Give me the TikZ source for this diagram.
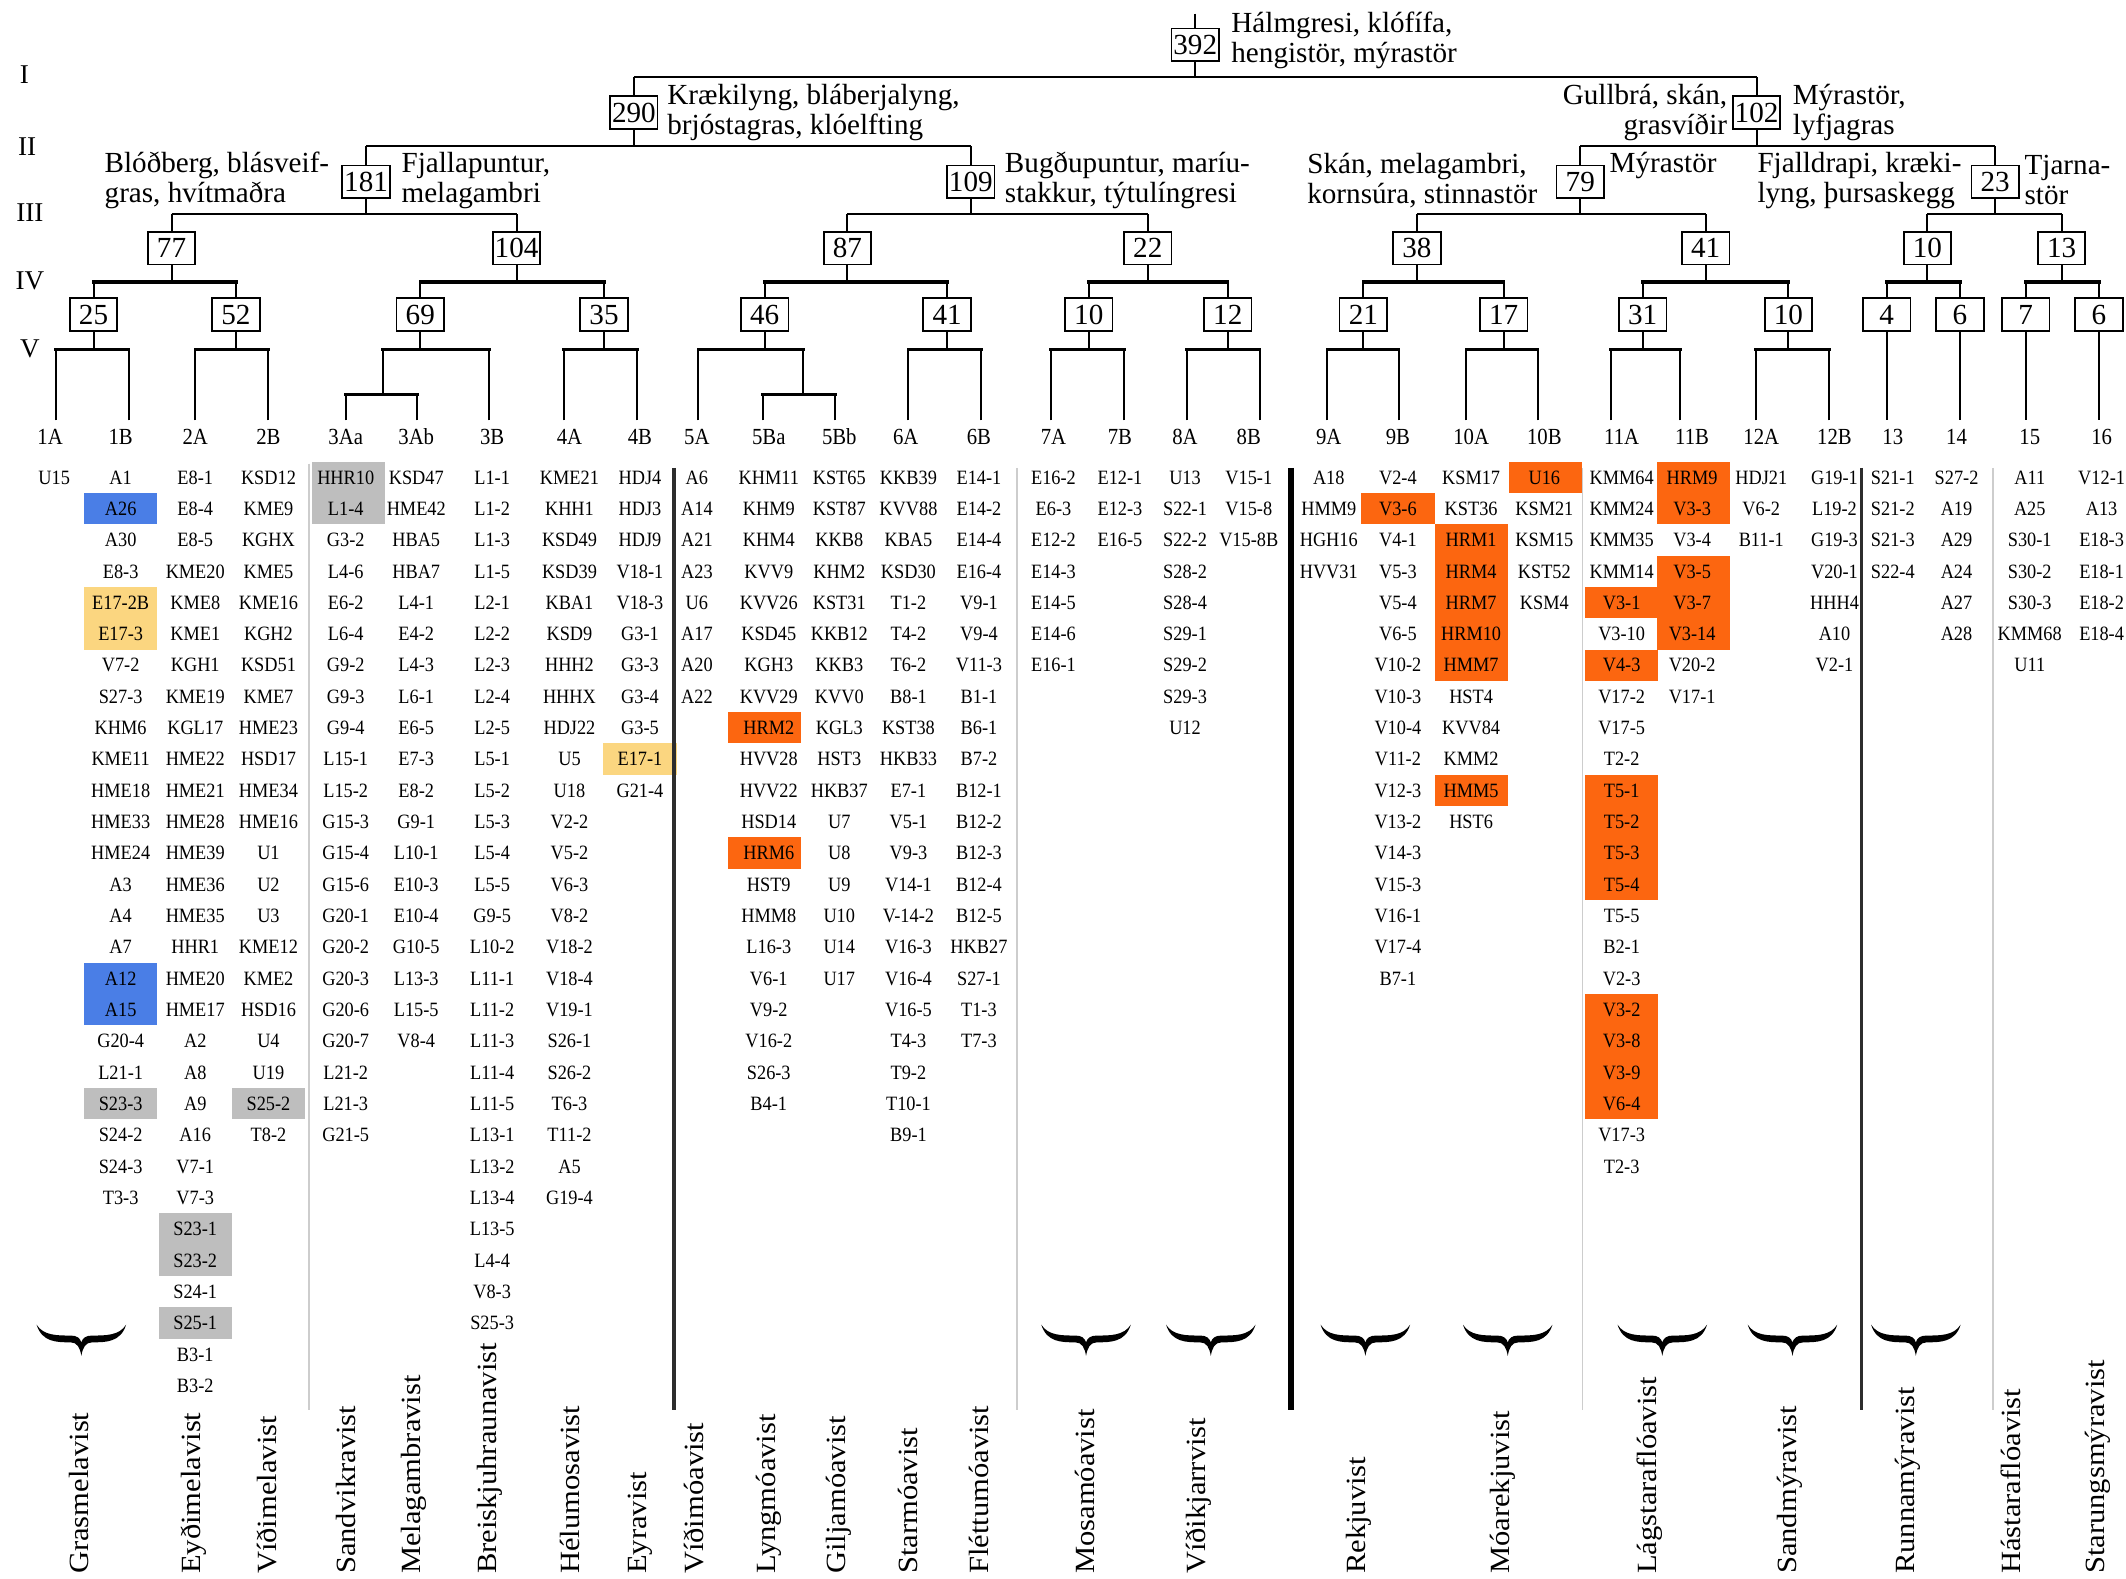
\documentclass[tikz,border=0pt]{standalone}
\usepackage{fontspec}
\setmainfont{Liberation Serif}
\newfontfamily\condfont{Liberation Serif}[FakeStretch=0.9]
\newfontfamily\widefont{Liberation Serif}[FakeStretch=1.1]
\definecolor{hlblue}{RGB}{74,126,230}
\definecolor{hlyellow}{RGB}{251,214,128}
\definecolor{hlgrey}{RGB}{190,190,190}
\definecolor{hlorange}{RGB}{252,102,16}
\definecolor{sepgrey}{RGB}{205,205,205}
\definecolor{sepdark}{RGB}{45,45,45}
\tikzset{
  conn/.style={line width=1.5pt, black},
  connv/.style={line width=2.4pt, black, line cap=rect},
  numbox/.style={draw, line width=1.3pt, fill=white, minimum width=35pt, minimum height=24pt, inner sep=0pt, font=\fontsize{21.5}{22}\selectfont},
  head/.style={inner sep=0pt, font=\fontsize{21.5}{22}\selectfont},
  lvl/.style={inner sep=0pt, font=\fontsize{20}{20}\selectfont},
  leaflab/.style={inner sep=0pt, font=\condfont\fontsize{17}{17}\selectfont},
  lstitem/.style={inner sep=0pt, text height=10pt, text depth=0pt, font=\condfont\fontsize{15}{15}\selectfont},
  botlab/.style={inner sep=0pt, rotate=90, anchor=west, font=\widefont\fontsize{20.5}{20.5}\selectfont},
  sepg/.style={line width=1pt, sepgrey},
  sepd/.style={line width=2.5pt, sepdark},
  sepk/.style={line width=4pt, black},
  brc/.pic={\fill[black] (-33,-13) .. controls (-29,0) and (-18,0) .. (-8,0) .. controls (-3,0) and (-1,4) .. (0,10) .. controls (1,4) and (3,0) .. (8,0) .. controls (18,0) and (29,0) .. (33,-13) .. controls (28,-5) and (18,-5) .. (8,-5) .. controls (3,-5) and (1,-3) .. (0,0) .. controls (-1,-3) and (-3,-5) .. (-8,-5) .. controls (-18,-5) and (-28,-5) .. (-33,-13) -- cycle;}
}
\newcommand\mklist[3]{\foreach \itm [count=\i from 0] in {#3}{\node[lstitem] (t#1-\i) at (#2,{352+23.1*\i}) {\itm};}}
\newcommand\mkhl[4]{\fill[#1] ({#2-27},{352+23.1*#3-11.55}) rectangle ({#2+27},{352+23.1*#4+11.55});}
\newcommand\mksplit[5]{%
  \draw[conn] (#1.south) -- (#1.south |- 0,#2);
  \draw[conn] (#3) -- (#3 |- 0,#2);
  \draw[conn] (#4) -- (#4 |- 0,#2);
  \draw[#5] (#3 |- 0,#2) -- (#4 |- 0,#2);}
\begin{document}
\begin{tikzpicture}[x=1pt,y=-1pt]
\fill[white] (0,0) rectangle (1568,1164);
\path[use as bounding box] (0,0) rectangle (1568,1164);

% ---------- highlights ----------
\mkhl{hlblue}{89}{1}{1}
\mkhl{hlyellow}{89}{4}{5}
\mkhl{hlblue}{89}{16}{17}
\mkhl{hlgrey}{89}{20}{20}
\mkhl{hlgrey}{144}{24}{25}
\mkhl{hlgrey}{144}{27}{27}
\mkhl{hlgrey}{198}{20}{20}
\mkhl{hlgrey}{257}{0}{1}
\mkhl{hlyellow}{472}{9}{9}
\mkhl{hlorange}{564}{8}{8}
\mkhl{hlorange}{564}{12}{12}
\mkhl{hlorange}{1031}{1}{1}
\mkhl{hlorange}{1085}{2}{6}
\mkhl{hlorange}{1085}{10}{10}
\mkhl{hlorange}{1140}{0}{0}
\mkhl{hlorange}{1196}{4}{4}
\mkhl{hlorange}{1196}{6}{6}
\mkhl{hlorange}{1196}{10}{13}
\mkhl{hlorange}{1196}{17}{20}
\mkhl{hlorange}{1249}{0}{1}
\mkhl{hlorange}{1249}{3}{5}

% ---------- separators ----------
\draw[sepg] (228,342) -- (228,1040);
\draw[sepd] (497,345) -- (497,1040);
\draw[sepg] (750,345) -- (750,1040);
\draw[sepk] (952,345) -- (952,1040);
\draw[sepg] (1167,345) -- (1167,1040);
\draw[sepd] (1373,345) -- (1373,1040);
\draw[sepg] (1470,345) -- (1470,1040);

% ---------- level labels ----------
\node[lvl] (lvI) at (18,55) {I};
\node[lvl] (lvII) at (20,108) {II};
\node[lvl] (lvIII) at (22,157) {III};
\node[lvl] (lvIV) at (22,207) {IV};
\node[lvl] (lvV) at (22,257) {V};

% ---------- tree boxes ----------
\node[numbox] (r) at (881.5,33) {392};
\node[numbox] (a) at (467.5,83) {290};
\node[numbox] (b) at (1295.5,83) {102};
\node[numbox] (aa) at (270,134) {181};
\node[numbox] (ab) at (716,134) {109};
\node[numbox] (ba) at (1165.5,134) {79};
\node[numbox] (bb) at (1471.5,134) {23};
\node[numbox] (aaa) at (126.5,183) {77};
\node[numbox] (aab) at (381,183) {104};
\node[numbox] (aba) at (625,183) {87};
\node[numbox] (abb) at (846.5,183) {22};
\node[numbox] (baa) at (1045,183) {38};
\node[numbox] (bab) at (1258,183) {41};
\node[numbox] (bba) at (1421.5,183) {10};
\node[numbox] (bbb) at (1520.5,183) {13};
\node[numbox] (aaaa) at (69,232) {25};
\node[numbox] (aaab) at (174,232) {52};
\node[numbox] (aaba) at (310,232) {69};
\node[numbox] (aabb) at (445.5,232) {35};
\node[numbox] (abaa) at (564,232) {46};
\node[numbox] (abab) at (698.5,232) {41};
\node[numbox] (abba) at (803,232) {10};
\node[numbox] (abbb) at (905.5,232) {12};
\node[numbox] (baaa) at (1005.5,232) {21};
\node[numbox] (baab) at (1109,232) {17};
\node[numbox] (baba) at (1211.5,232) {31};
\node[numbox] (babb) at (1319,232) {10};
\node[numbox] (bbaa) at (1391.5,232) {4};
\node[numbox] (bbab) at (1445.5,232) {6};
\node[numbox] (bbba) at (1494,232) {7};
\node[numbox] (bbbb) at (1548,232) {6};

% ---------- header texts ----------
\node[head, anchor=west, align=left] (hr) at (908,30) {Hálmgresi, klófífa,\\hengistör, mýrastör};
\node[head, anchor=west, align=left] (ha) at (492,83) {Krækilyng, bláberjalyng,\\brjóstagras, klóelfting};
\node[head, anchor=east, align=right] (hbl) at (1274,83) {Gullbrá, skán,\\grasvíðir};
\node[head, anchor=west, align=left] (hbr) at (1322,83) {Mýrastör,\\lyfjagras};
\node[head, anchor=west, align=left] (haal) at (77,133) {Blóðberg, blásveif-\\gras, hvítmaðra};
\node[head, anchor=west, align=left] (haar) at (296,133) {Fjallapuntur,\\melagambri};
\node[head, anchor=west, align=left] (habr) at (741,133) {Bugðupuntur, maríu-\\stakkur, týtulíngresi};
\node[head, anchor=west, align=left] (hbal) at (964,133) {Skán, melagambri,\\kornsúra, stinnastör};
\node[head, anchor=west] (hbar) at (1187,122) {Mýrastör};
\node[head, anchor=west, align=left] (hbbl) at (1296,133) {Fjalldrapi, kræki-\\lyng, þursaskegg};
\node[head, anchor=west, align=left] (hbbr) at (1493,133) {Tjarna-\\stör};

% ---------- leaf coordinates ----------
\coordinate (top) at (881.5,10);
\coordinate (j3A) at (282.5,258);
\coordinate (j5B) at (592.5,258);
\foreach \nm/\xx in {1A/41,1B/95,2A/144,2B/198,3Aa/255,3Ab/307.5,3B/361,4A/416,4B/470,5A/515,5Ba/562.5,5Bb/616,6A/670,6B/723.5,7A/775,7B/829,8A/875.5,8B/929,9A/979,9B/1031.5,10A/1081.5,10B/1134,11A/1188,11B/1239,12A/1295,12B/1349,13/1391.5,14/1445.5,15/1494,16/1548}
  {\coordinate (l\nm) at (\xx,310);}

% ---------- connectors ----------
\draw[conn] (top) -- (r.north);
\mksplit{r}{57}{a.north}{b.north}{conn}
\mksplit{a}{108}{aa.north}{ab.north}{conn}
\mksplit{b}{108}{ba.north}{bb.north}{conn}
\mksplit{aa}{158}{aaa.north}{aab.north}{conn}
\mksplit{ab}{158}{aba.north}{abb.north}{conn}
\mksplit{ba}{158}{baa.north}{bab.north}{conn}
\mksplit{bb}{158}{bba.north}{bbb.north}{conn}
\mksplit{aaa}{208}{aaaa.north}{aaab.north}{connv}
\mksplit{aab}{208}{aaba.north}{aabb.north}{connv}
\mksplit{aba}{208}{abaa.north}{abab.north}{connv}
\mksplit{abb}{208}{abba.north}{abbb.north}{connv}
\mksplit{baa}{208}{baaa.north}{baab.north}{connv}
\mksplit{bab}{208}{baba.north}{babb.north}{connv}
\mksplit{bba}{208}{bbaa.north}{bbab.north}{connv}
\mksplit{bbb}{208}{bbba.north}{bbbb.north}{connv}
\mksplit{aaaa}{258}{l1A}{l1B}{connv}
\mksplit{aaab}{258}{l2A}{l2B}{connv}
\mksplit{aaba}{258}{j3A}{l3B}{connv}
\mksplit{aabb}{258}{l4A}{l4B}{connv}
\mksplit{abaa}{258}{l5A}{j5B}{connv}
\mksplit{abab}{258}{l6A}{l6B}{connv}
\mksplit{abba}{258}{l7A}{l7B}{connv}
\mksplit{abbb}{258}{l8A}{l8B}{connv}
\mksplit{baaa}{258}{l9A}{l9B}{connv}
\mksplit{baab}{258}{l10A}{l10B}{connv}
\mksplit{baba}{258}{l11A}{l11B}{connv}
\mksplit{babb}{258}{l12A}{l12B}{connv}
% sub-branches 3A and 5B
\draw[conn] (j3A) -- (j3A |- 0,291);
\draw[conn] (l3Aa) -- (l3Aa |- 0,291);
\draw[conn] (l3Ab) -- (l3Ab |- 0,291);
\draw[connv] (l3Aa |- 0,291) -- (l3Ab |- 0,291);
\draw[conn] (j5B) -- (j5B |- 0,291);
\draw[conn] (l5Ba) -- (l5Ba |- 0,291);
\draw[conn] (l5Bb) -- (l5Bb |- 0,291);
\draw[connv] (l5Ba |- 0,291) -- (l5Bb |- 0,291);
% single leaves
\draw[conn] (bbaa.south) -- (l13);
\draw[conn] (bbab.south) -- (l14);
\draw[conn] (bbba.south) -- (l15);
\draw[conn] (bbbb.south) -- (l16);

% ---------- leaf labels ----------
\foreach \nm/\xx in {1A/37,1B/89,2A/144,2B/198,3Aa/255,3Ab/307,3B/363,4A/420,4B/472,5A/514,5Ba/567,5Bb/619,6A/668,6B/722,7A/777,7B/826,8A/874,8B/921,9A/980,9B/1031,10A/1085,10B/1139,11A/1196,11B/1248,12A/1299,12B/1353,13/1396,14/1443,15/1497,16/1550}
  {\node[leaflab] (lab\nm) at (\xx,322) {\nm};}

% ---------- lists ----------
\mklist{1A}{40}{U15}
\mklist{1B}{89}{A1,A26,A30,E8-3,E17-2B,E17-3,V7-2,S27-3,KHM6,KME11,HME18,HME33,HME24,A3,A4,A7,A12,A15,G20-4,L21-1,S23-3,S24-2,S24-3,T3-3}
\mklist{2A}{144}{E8-1,E8-4,E8-5,KME20,KME8,KME1,KGH1,KME19,KGL17,HME22,HME21,HME28,HME39,HME36,HME35,HHR1,HME20,HME17,A2,A8,A9,A16,V7-1,V7-3,S23-1,S23-2,S24-1,S25-1,B3-1,B3-2}
\mklist{2B}{198}{KSD12,KME9,KGHX,KME5,KME16,KGH2,KSD51,KME7,HME23,HSD17,HME34,HME16,U1,U2,U3,KME12,KME2,HSD16,U4,U19,S25-2,T8-2}
\mklist{3Aa}{255}{HHR10,L1-4,G3-2,L4-6,E6-2,L6-4,G9-2,G9-3,G9-4,L15-1,L15-2,G15-3,G15-4,G15-6,G20-1,G20-2,G20-3,G20-6,G20-7,L21-2,L21-3,G21-5}
\mklist{3Ab}{307}{KSD47,HME42,HBA5,HBA7,L4-1,E4-2,L4-3,L6-1,E6-5,E7-3,E8-2,G9-1,L10-1,E10-3,E10-4,G10-5,L13-3,L15-5,V8-4}
\mklist{3B}{363}{L1-1,L1-2,L1-3,L1-5,L2-1,L2-2,L2-3,L2-4,L2-5,L5-1,L5-2,L5-3,L5-4,L5-5,G9-5,L10-2,L11-1,L11-2,L11-3,L11-4,L11-5,L13-1,L13-2,L13-4,L13-5,L4-4,V8-3,S25-3}
\mklist{4A}{420}{KME21,KHH1,KSD49,KSD39,KBA1,KSD9,HHH2,HHHX,HDJ22,U5,U18,V2-2,V5-2,V6-3,V8-2,V18-2,V18-4,V19-1,S26-1,S26-2,T6-3,T11-2,A5,G19-4}
\mklist{4B}{472}{HDJ4,HDJ3,HDJ9,V18-1,V18-3,G3-1,G3-3,G3-4,G3-5,E17-1,G21-4}
\mklist{5A}{514}{A6,A14,A21,A23,U6,A17,A20,A22}
\mklist{5Ba}{567}{KHM11,KHM9,KHM4,KVV9,KVV26,KSD45,KGH3,KVV29,HRM2,HVV28,HVV22,HSD14,HRM6,HST9,HMM8,L16-3,V6-1,V9-2,V16-2,S26-3,B4-1}
\mklist{5Bb}{619}{KST65,KST87,KKB8,KHM2,KST31,KKB12,KKB3,KVV0,KGL3,HST3,HKB37,U7,U8,U9,U10,U14,U17}
\mklist{6A}{670}{KKB39,KVV88,KBA5,KSD30,T1-2,T4-2,T6-2,B8-1,KST38,HKB33,E7-1,V5-1,V9-3,V14-1,V-14-2,V16-3,V16-4,V16-5,T4-3,T9-2,T10-1,B9-1}
\mklist{6B}{722}{E14-1,E14-2,E14-4,E16-4,V9-1,V9-4,V11-3,B1-1,B6-1,B7-2,B12-1,B12-2,B12-3,B12-4,B12-5,HKB27,S27-1,T1-3,T7-3}
\mklist{7A}{777}{E16-2,E6-3,E12-2,E14-3,E14-5,E14-6,E16-1}
\mklist{7B}{826}{E12-1,E12-3,E16-5}
\mklist{8A}{874}{U13,S22-1,S22-2,S28-2,S28-4,S29-1,S29-2,S29-3,U12}
\mklist{8B}{921}{V15-1,V15-8,V15-8B}
\mklist{9A}{980}{A18,HMM9,HGH16,HVV31}
\mklist{9B}{1031}{V2-4,V3-6,V4-1,V5-3,V5-4,V6-5,V10-2,V10-3,V10-4,V11-2,V12-3,V13-2,V14-3,V15-3,V16-1,V17-4,B7-1}
\mklist{10A}{1085}{KSM17,KST36,HRM1,HRM4,HRM7,HRM10,HMM7,HST4,KVV84,KMM2,HMM5,HST6}
\mklist{10B}{1139}{U16,KSM21,KSM15,KST52,KSM4}
\mklist{11A}{1196}{KMM64,KMM24,KMM35,KMM14,V3-1,V3-10,V4-3,V17-2,V17-5,T2-2,T5-1,T5-2,T5-3,T5-4,T5-5,B2-1,V2-3,V3-2,V3-8,V3-9,V6-4,V17-3,T2-3}
\mklist{11B}{1248}{HRM9,V3-3,V3-4,V3-5,V3-7,V3-14,V20-2,V17-1}
\mklist{12A}{1299}{HDJ21,V6-2,B11-1}
\mklist{12B}{1353}{G19-1,L19-2,G19-3,V20-1,HHH4,A10,V2-1}
\mklist{13}{1396}{S21-1,S21-2,S21-3,S22-4}
\mklist{14}{1443}{S27-2,A19,A29,A24,A27,A28}
\mklist{15}{1497}{A11,A25,S30-1,S30-2,S30-3,KMM68,U11}
\mklist{16}{1550}{V12-1,A13,E18-3,E18-1,E18-2,E18-4}

% ---------- braces ----------
\foreach \xx in {60,801,893,1007,1112,1226,1322,1413}
  {\pic at (\xx,990) {brc};}

% ---------- bottom labels ----------
\foreach \nm/\xx in {Grasmelavist/58,Eyðimelavist/143,Víðimelavist/197,Sandvikravist/255,Melagambravist/305,Breiskjuhraunavist/361,Hélumosavist/420,Eyravist/472,Víðimóavist/512,Lyngmóavist/567,Giljamóavist/619,Starmóavist/670,Fléttumóavist/722,Mosamóavist/800,Víðikjarrvist/884,Rekjuvist/1002,Móarekjuvist/1108,Lágstaraflóavist/1217,Sandmýravist/1320,Runnamýravist/1407,Hástaraflóavist/1483,Starungsmýravist/1547}
  {\node[botlab] (bl\xx) at (\xx,1161) {\nm};}
\end{tikzpicture}
\end{document}
